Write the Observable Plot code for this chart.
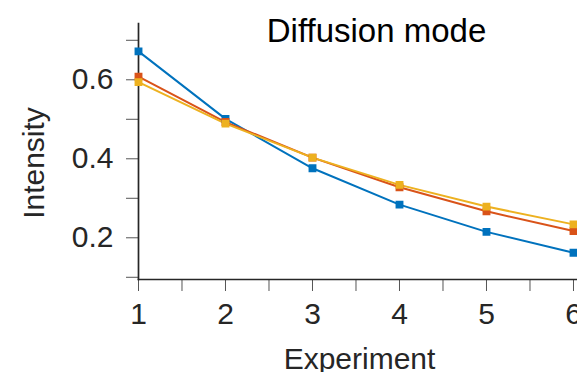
<!DOCTYPE html>
<html><head><meta charset="utf-8">
<script src="https://cdn.jsdelivr.net/npm/d3@7"></script>
<script src="https://cdn.jsdelivr.net/npm/@observablehq/plot@0.6"></script>
<style>body{margin:0;background:#fff;overflow:hidden}</style>
</head><body><div id="chart"></div>
<script>
const experiments = [1, 2, 3, 4, 5, 6];
const seriesNames = ["Series 1", "Series 2", "Series 3"];
const series1 = [0.672, 0.501, 0.376, 0.284, 0.215, 0.162];
const series2 = [0.608, 0.493, 0.403, 0.328, 0.267, 0.217];
const series3 = [0.594, 0.489, 0.403, 0.334, 0.279, 0.234];
const seriesColors = ["#0072BD", "#D95319", "#EDB120"];
const xTicks = [1, 1.5, 2, 2.5, 3, 3.5, 4, 4.5, 5, 5.5, 6];
const xTickLabels = ["1", "2", "3", "4", "5", "6"];
const yTicks = [0.1, 0.2, 0.3, 0.4, 0.5, 0.6, 0.7];
const yTickLabels = ["0.2", "0.4", "0.6"];
const titleText = "Diffusion mode";
const xLabel = "Experiment";
const yLabel = "Intensity";

const allValues = [series1, series2, series3];
const data = seriesNames.flatMap((s, k) =>
  experiments.map((e, i) => ({series: s, x: e, y: allValues[k][i]})));

const font = "'Liberation Sans', Arial, Helvetica, sans-serif";
const ink = "#262626";

const chart = Plot.plot({
  width: 577,
  height: 372,
  marginLeft: 138,
  marginRight: 0,
  marginTop: 23,
  marginBottom: 93,
  style: {fontFamily: font, fontSize: "30px", color: ink, background: "#fff"},
  x: {domain: [1, 6.046]},
  y: {domain: [0.0944, 0.7425]},
  color: {domain: seriesNames, range: seriesColors},
  marks: [
    Plot.axisY({ticks: yTicks, tickSize: 12, tickPadding: 13, label: null,
      stroke: "#555", fill: ink,
      tickFormat: d => yTickLabels.includes(d.toFixed(1)) ? d.toFixed(1) : ""}),
    Plot.axisX({ticks: xTicks, tickSize: 12, tickPadding: 11, label: null,
      stroke: "#555", fill: ink,
      tickFormat: d => xTickLabels.includes(String(d)) ? String(d) : ""}),
    Plot.frame({anchor: "left", stroke: ink, strokeWidth: 1.7}),
    Plot.frame({anchor: "bottom", stroke: ink, strokeWidth: 1.7}),
    Plot.line(data, {x: "x", y: "y", z: "series", stroke: "series", strokeWidth: 2}),
    Plot.dot(data, {x: "x", y: "y", fill: "series", stroke: "series", symbol: "square", r: 3.6}),
    Plot.text([titleText], {text: d => d, frameAnchor: "top", dx: 18.5, dy: 8,
      fontSize: 33, fill: "#000", textAnchor: "middle", lineAnchor: "middle"}),
    Plot.text([xLabel], {text: d => d, frameAnchor: "bottom", dx: 1.5, dy: 80,
      fontSize: 30, fill: ink, textAnchor: "middle", lineAnchor: "middle"}),
    Plot.text([yLabel], {text: d => d, frameAnchor: "left", dx: -104, dy: 11.5,
      rotate: -90, fontSize: 30, fill: ink, textAnchor: "middle", lineAnchor: "middle"})
  ]
});
document.getElementById("chart").appendChild(chart);
</script>
</body></html>
